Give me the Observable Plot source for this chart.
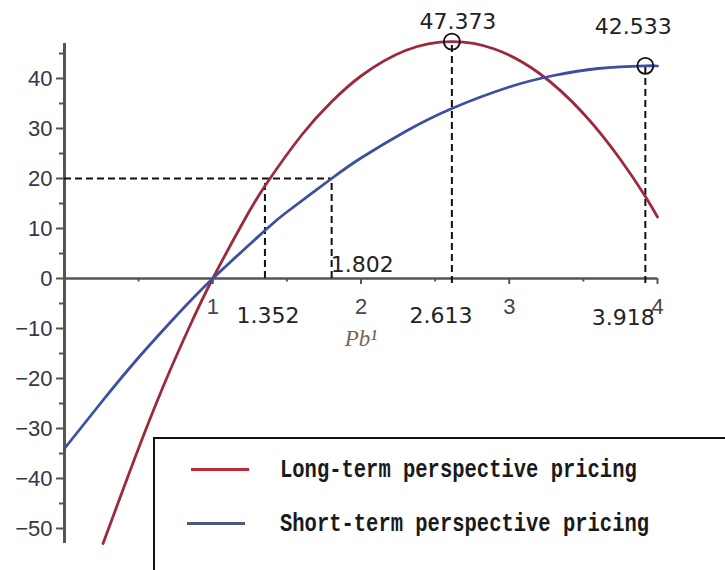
<!DOCTYPE html>
<html>
<head>
<meta charset="utf-8">
<script src="https://cdn.jsdelivr.net/npm/d3@7"></script>
<script src="https://cdn.jsdelivr.net/npm/@observablehq/plot@0.6"></script>
<style>
  html, body { margin: 0; padding: 0; background: #fff; }
  #wrap { position: relative; width: 725px; height: 570px; overflow: hidden; background: #fff; }
  #wrap svg { position: absolute; left: 0; top: 0; }
  #legend { position: absolute; left: 153px; top: 437px; width: 620px; height: 200px;
            border: 2px solid #111; background: #fff; box-sizing: border-box; }
  .item { position: absolute; left: 0; height: 30px; width: 600px; }
  .swatch { position: absolute; height: 3px; }
  .lab { position: absolute; left: 125px; font-family: "Liberation Mono", monospace; font-size: 20.5px;
         font-weight: bold; color: #1a1a1a; white-space: nowrap; transform: scaleY(1.3); transform-origin: left center; }
</style>
</head>
<body>
<div id="wrap"></div>
<script>
// ---- data ----
const longX  = [0.26, 0.4, 0.55, 0.7, 0.85, 1, 1.2, 1.352, 1.6, 1.8, 2, 2.3, 2.613, 2.9, 3.2, 3.5, 3.75, 3.918, 4];
const longY  = [-53, -41.8, -30.1, -19.2, -9.2, 0, 11, 18.5, 28.7, 35.3, 40.5, 45.6, 47.37, 45.9, 41.1, 33, 23.8, 16.4, 12.3];
const shortX = [0, 0.25, 0.5, 0.75, 1, 1.352, 1.5, 1.802, 2, 2.3, 2.613, 3, 3.3, 3.6, 3.918, 4];
const shortY = [-34, -24.7, -15.8, -7.6, 0, 9.6, 13.3, 20, 24.1, 29.4, 34, 38.3, 40.6, 42, 42.53, 42.5];
const seriesNames = ["Long-term perspective pricing", "Short-term perspective pricing"];
const peakX = [2.613, 3.918];
const peakY = [47.373, 42.533];
const crossX = [1.352, 1.802];
const crossLevel = 20;
const xTicks = [1, 2, 3, 4];
const xMinor = [0.5, 1.5, 2.5, 3.5];
const yTicks = [-50, -40, -30, -20, -10, 0, 10, 20, 30, 40];
const yMinor = [-45, -35, -25, -15, -5, 5, 15, 25, 35, 45];
const xLabel = "Pb¹";

const longData = longX.map((x, i) => ({x, y: longY[i]}));
const shortData = shortX.map((x, i) => ({x, y: shortY[i]}));

const dash = "7,4";
const labFont = {fontSize: 22, fontFamily: "DejaVu Sans", fill: "#222", lineAnchor: "bottom"};
const fmt = d => d.toFixed(3);

const chart = Plot.plot({
  width: 725, height: 570,
  marginLeft: 64, marginRight: 68, marginTop: 43, marginBottom: 27,
  x: {domain: [0, 4], axis: null},
  y: {domain: [-53, 47], axis: null},
  style: {background: "transparent"},
  marks: [
    // y axis ticks and labels
    Plot.axisY({ticks: yTicks, tickSize: 8, tickPadding: 4, fontSize: 22, fontFamily: "Liberation Sans",
                color: "#36364a", stroke: "#555", strokeWidth: 2, label: null}),
    Plot.axisY({ticks: yMinor, tickSize: 5, text: null, stroke: "#555", strokeWidth: 2, label: null}),
    // x ticks along y=0
    Plot.ruleX(xTicks, {y1: 0, y2: -1.2, stroke: "#555", strokeWidth: 2}),
    Plot.ruleX(xMinor, {y1: 0, y2: -0.7, stroke: "#555", strokeWidth: 2}),
    Plot.text(xTicks, {x: d => d, y: 0, dy: 35, text: d => String(d), fontSize: 22,
                       fontFamily: "Liberation Sans", fill: "#4a3f55", lineAnchor: "bottom"}),
    Plot.text([xLabel], {x: 2, y: 0, dy: 67, text: d => d, fontSize: 23, fontStyle: "italic",
                         fontFamily: "Liberation Serif", fill: "#7a6552", lineAnchor: "bottom"}),
    // axis lines
    Plot.ruleY([0], {x1: 0, x2: 4, stroke: "#555", strokeWidth: 2.5}),
    Plot.ruleX([0], {y1: -53, y2: 47, stroke: "#555", strokeWidth: 3}),
    // dashed guides
    Plot.ruleY([crossLevel], {x1: 0, x2: crossX[1], stroke: "#111", strokeWidth: 2, strokeDasharray: dash}),
    Plot.ruleX(crossX, {y1: 0, y2: crossLevel, stroke: "#111", strokeWidth: 2, strokeDasharray: dash}),
    Plot.ruleX(peakX, {x: d => d, y1: -1, y2: (d, i) => peakY[i], stroke: "#111", strokeWidth: 2, strokeDasharray: dash}),
    // curves
    Plot.line(longData, {x: "x", y: "y", curve: "natural", stroke: "#9c2a3c", strokeWidth: 2.8}),
    Plot.line(shortData, {x: "x", y: "y", curve: "natural", stroke: "#3b4fa3", strokeWidth: 2.8}),
    // peak markers
    Plot.dot(peakX, {x: d => d, y: (d, i) => peakY[i], r: 8, stroke: "#111", strokeWidth: 1.8, fill: "none"}),
    // annotation labels
    Plot.text([0], {x: peakX[0], y: peakY[0], text: [fmt(peakY[0])], dx: 6, dy: -13, ...labFont}),
    Plot.text([0], {x: peakX[1], y: peakY[1], text: [fmt(peakY[1])], dx: -12, dy: -32, ...labFont}),
    Plot.text([0], {x: crossX[1], y: 0, text: [fmt(crossX[1])], dx: -1, dy: -7, textAnchor: "start", ...labFont}),
    Plot.text([0], {x: crossX[0], y: 0, text: [fmt(crossX[0])], dx: 3, dy: 44, ...labFont}),
    Plot.text([0], {x: peakX[0], y: 0, text: [fmt(peakX[0])], dx: -11, dy: 44, ...labFont}),
    Plot.text([0], {x: peakX[1], y: 0, text: [fmt(peakX[1])], dx: -22, dy: 46, ...labFont})
  ]
});

const wrap = document.getElementById("wrap");
wrap.appendChild(chart);

// legend overlay
const legend = document.createElement("div");
legend.id = "legend";
const legendColors = ["#c0283c", "#4b5a78"];
const legendTops = [16, 70];
seriesNames.forEach((name, i) => {
  const item = document.createElement("div");
  item.className = "item";
  item.style.top = legendTops[i] + "px";
  const sw = document.createElement("div");
  sw.className = "swatch";
  sw.style.background = legendColors[i];
  sw.style.left = (i === 0 ? 36 : 32) + "px";
  sw.style.width = "58px";
  sw.style.top = "13px";
  const lab = document.createElement("div");
  lab.className = "lab";
  lab.textContent = name;
  lab.style.top = "0px";
  lab.style.lineHeight = "30px";
  item.appendChild(sw);
  item.appendChild(lab);
  legend.appendChild(item);
});
wrap.appendChild(legend);
</script>
</body>
</html>
